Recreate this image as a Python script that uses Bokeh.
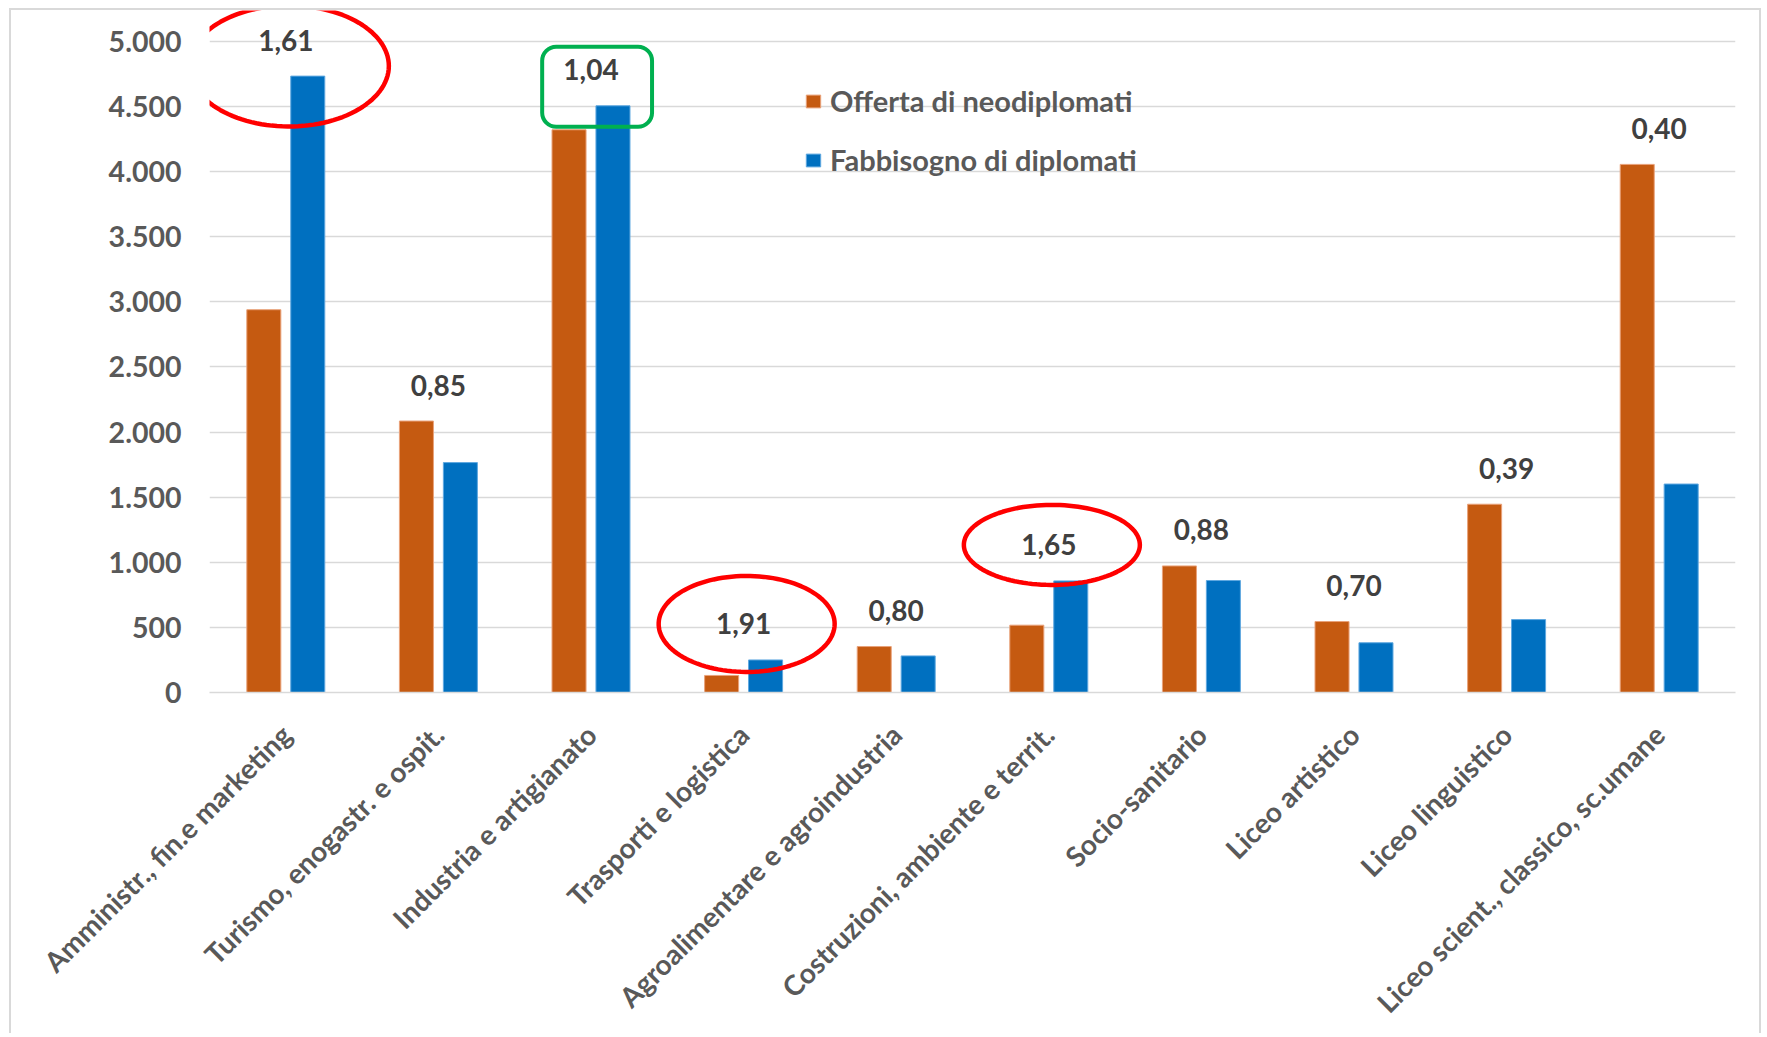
import numpy as np
from bokeh.plotting import figure
from bokeh.models import Range1d, FixedTicker, Legend, LegendItem, PolyAnnotation
from bokeh.core.properties import value
from bokeh.embed import file_html
from bokeh.resources import INLINE

# ---------------- data ----------------
categories = [
    "Amministr., fin.e marketing",
    "Turismo, enogastr. e ospit.",
    "Industria e artigianato",
    "Trasporti e logistica",
    "Agroalimentare e agroindustria",
    "Costruzioni, ambiente e territ.",
    "Socio-sanitario",
    "Liceo artistico",
    "Liceo linguistico",
    "Liceo scient., classico, sc.umane",
]
offerta = [2940, 2085, 4322, 131, 353, 517, 972, 545, 1446, 4056]
fabbisogno = [4734, 1766, 4506, 250, 281, 857, 860, 382, 560, 1601]
ratio_labels = ["1,61", "0,85", "1,04", "1,91", "0,80", "1,65", "0,88", "0,70", "0,39", "0,40"]
series_names = ["Offerta di neodiplomati", "Fabbisogno di diplomati"]
y_ticks = [0, 500, 1000, 1500, 2000, 2500, 3000, 3500, 4000, 4500, 5000]
y_tick_labels = ["0", "500", "1.000", "1.500", "2.000", "2.500",
                 "3.000", "3.500", "4.000", "4.500", "5.000"]
red_circled = [0, 3, 5]
green_boxed = [2]

# ---------------- style ----------------
FONT = "Lato"
ORANGE = "#C55A11"
BLUE = "#0070C0"
GREY = "#595959"
DARK = "#404040"
GRID = "#d9d9d9"
ellipse_sizes_px = [(200, 121), (176, 96), (176, 80)]

W, H = 1752, 1025
ML, MR, MT, MB = 198, 28, 0, 343
Y_END = 5238
frame_h = H - MT - MB
frame_w = W - ML - MR
px_per_unit = frame_h / Y_END
px_per_cat = frame_w / len(categories)

idx = np.arange(len(categories))
x_off = 0.144
bar_w = 0.223

p = figure(width=W, height=H, x_range=Range1d(-0.5, len(categories) - 0.5),
           y_range=Range1d(0, Y_END), output_backend="svg", toolbar_location=None,
           min_border_left=ML, min_border_right=MR, min_border_top=MT, min_border_bottom=MB)
p.styles = {"border-top": "2px solid #d9d9d9", "border-left": "2px solid #d9d9d9",
            "border-right": "2px solid #d9d9d9", "margin": "8px 0px 0px 9px"}
p.outline_line_color = None
p.background_fill_color = "white"
p.border_fill_color = "white"

r1 = p.vbar(x=idx - x_off, top=offerta, width=bar_w, fill_color=ORANGE,
            line_color="#e9a27a", line_width=1)
r2 = p.vbar(x=idx + x_off, top=fabbisogno, width=bar_w, fill_color=BLUE,
            line_color="#5fa8e0", line_width=1)

# ratio labels above each pair
top_val = np.maximum(offerta, fabbisogno)
label_gap = 36 / px_per_unit
label_y = top_val + label_gap
p.text(x=idx, y=label_y, text=ratio_labels, text_align="center", text_baseline="middle",
       text_font=value(FONT), text_font_style="bold", text_font_size="28px", text_color=DARK)

# red hand-drawn style ellipses (annotations, not clipped to the frame)
theta = np.linspace(0, 2 * np.pi, 120)
for i, (ew, eh) in zip(red_circled, ellipse_sizes_px):
    rx = ew / 2 / px_per_cat
    ry = eh / 2 / px_per_unit
    cy = min(label_y[i], Y_END + 5 / px_per_unit - ry)
    cx = idx[i] + 0.02
    p.add_layout(PolyAnnotation(xs=list(cx + rx * np.cos(theta)), ys=list(cy + ry * np.sin(theta)),
                                fill_alpha=0, line_color="#FF0000", line_alpha=1.0,
                                line_width=4.5))

# green rounded box
bx = np.array([idx[i] for i in green_boxed], dtype=float) + 0.04
btop = [label_y[i] + 23 / px_per_unit for i in green_boxed]
bbot = [top_val[i] - 21 / px_per_unit for i in green_boxed]
p.quad(left=bx - 0.36, right=bx + 0.36, top=btop, bottom=bbot, border_radius=14,
       fill_color=None, line_color="#00B050", line_width=4)

# axes
p.xaxis.ticker = FixedTicker(ticks=list(idx))
p.xaxis.major_label_overrides = {int(i): c for i, c in zip(idx, categories)}
p.xaxis.major_label_orientation = np.pi / 4
p.xaxis.major_label_text_font = FONT
p.xaxis.major_label_text_font_style = "bold"
p.xaxis.major_label_text_font_size = "28px"
p.xaxis.major_label_text_color = GREY
p.xaxis.major_label_standoff = 31
p.xaxis.axis_line_color = GRID
p.xaxis.axis_line_width = 1.5
p.xaxis.major_tick_line_color = None
p.xaxis.minor_tick_line_color = None

p.yaxis.ticker = FixedTicker(ticks=y_ticks)
p.yaxis.major_label_overrides = {t: s for t, s in zip(y_ticks, y_tick_labels)}
p.yaxis.major_label_text_font = FONT
p.yaxis.major_label_text_font_style = "bold"
p.yaxis.major_label_text_font_size = "28.5px"
p.yaxis.major_label_text_color = GREY
p.yaxis.major_label_standoff = 22
p.yaxis.axis_line_color = None
p.yaxis.major_tick_line_color = None
p.yaxis.minor_tick_line_color = None

p.xgrid.grid_line_color = None
p.ygrid.ticker = FixedTicker(ticks=y_ticks)
p.ygrid.grid_line_color = GRID
p.ygrid.grid_line_width = 1.5

legend = Legend(items=[LegendItem(label=series_names[0], renderers=[r1]),
                       LegendItem(label=series_names[1], renderers=[r2])],
                location=(595, frame_h - 167), orientation="vertical",
                border_line_color=None, background_fill_alpha=0, padding=0, margin=0,
                glyph_width=18, glyph_height=16, label_standoff=8, spacing=24,
                label_height=31, label_text_font=FONT, label_text_font_style="bold",
                label_text_font_size="29px", label_text_color=GREY)
p.add_layout(legend)

open("out.html", "w").write(file_html(p, INLINE))
